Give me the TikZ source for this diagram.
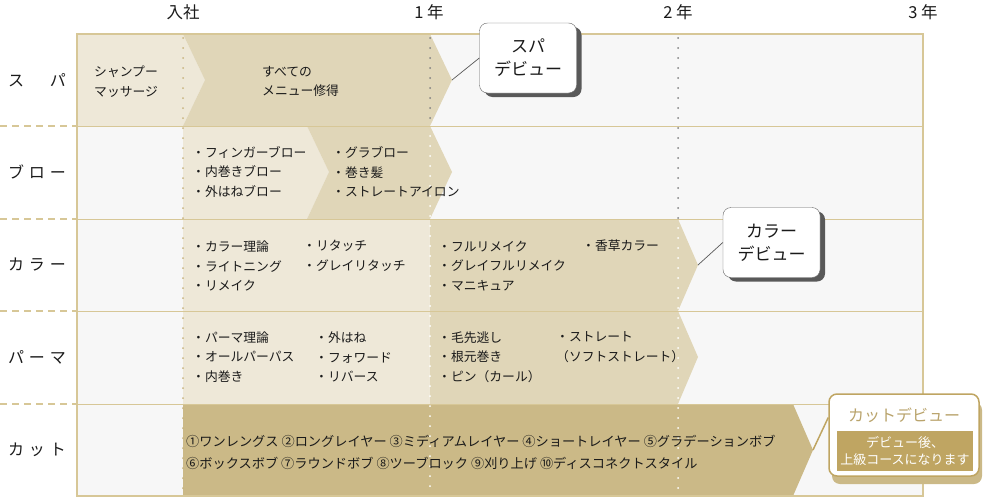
\documentclass[tikz,border=0pt]{standalone}
\usepackage{fontspec}
\setmainfont{Noto Sans CJK JP}
\newfontfamily\rowfont[LetterSpace=30]{Noto Sans CJK JP}
\usetikzlibrary{shadows}
\definecolor{tanline}{HTML}{D7C797}
\definecolor{tanlight}{HTML}{EEE8D8}
\definecolor{tanmid}{HTML}{E0D6B8}
\definecolor{tandark}{HTML}{CBB987}
\definecolor{tandot}{HTML}{C9B47E}
\definecolor{bggray}{HTML}{F7F7F7}
\definecolor{cutgold}{HTML}{BFA562}
\definecolor{cuttext}{HTML}{B9A36B}
\definecolor{ink}{HTML}{1A1A1A}

\begin{document}
\begin{tikzpicture}[x=1pt, y=-1pt, text=ink,
  item/.style={anchor=west, align=left, inner sep=0pt, font=\fontsize{12.8}{19.5}\selectfont},
  rowlabel/.style={inner sep=0pt, font=\rowfont\fontsize{16}{16}\selectfont},
  year/.style={inner sep=0pt, font=\fontsize{16.5}{16.5}\selectfont},
  debut/.style={draw=black!60, fill=white, rounded corners=8pt, align=center,
    minimum width=97pt, minimum height=70pt, font=\fontsize{17}{23}\selectfont,
    drop shadow={shadow xshift=5pt, shadow yshift=-4pt, fill=black!65, opacity=1}},
  dots/.style={line width=2pt, line cap=round, dash pattern=on 0pt off 10pt},
  callline/.style={draw=black!65, line width=0.7pt}]
  \useasboundingbox (0,0) rectangle (983,498);

  % table background and steps
  \fill[bggray] (77,34) rectangle (923,496);
  \fill[tanlight] (77,34) -- (183,34) -- (205,80) -- (183,126) -- (77,126) -- cycle;
  \fill[tanmid] (183,34) -- (430,34) -- (452,80) -- (430,126) -- (183,126) -- (205,80) -- cycle;
  \fill[tanlight] (183,126) -- (307,126) -- (329,172) -- (307,219) -- (183,219) -- cycle;
  \fill[tanmid] (307,126) -- (430,126) -- (452,172) -- (430,219) -- (307,219) -- (329,172) -- cycle;
  \fill[tanlight] (183,219) rectangle (430,404);
  \fill[tanmid] (430,219) -- (678,219) -- (698,265) -- (678,311) -- (430,311) -- cycle;
  \fill[tanmid] (430,311) -- (678,311) -- (698,357) -- (678,404) -- (430,404) -- cycle;
  \fill[tandark] (183,404) -- (793,404) -- (813,450) -- (793,496) -- (183,496) -- cycle;

  \foreach \y in {126,219,311,404} {
    \draw[tanline, line width=1.2pt, dash pattern=on 7pt off 5pt] (0,\y) -- (77,\y);
    \draw[tanline, line width=1pt] (77,\y) -- (923,\y);
  }
  \draw[dots, tandot] (183,38) -- (183,496);
  \draw[dots, black!50] (430,38) -- (430,126);
  \draw[dots, white] (430,136) -- (430,496);
  \draw[dots, black!50] (678,38) -- (678,219);
  \draw[dots, white] (678,228) -- (678,496);
  \draw[tanline, line width=2pt] (77,34) rectangle (923,496);

  \node[year] (join) at (183,12) {入社};
  \node[year] (yr1) at (429,12) {1 年};
  \node[year] (yr2) at (678,12) {2 年};
  \node[year] (yr3) at (923,12) {3 年};

  \node[rowlabel] (spa) at (37,80) {ス　パ};
  \node[rowlabel] (blow) at (37,172) {ブロー};
  \node[rowlabel] (color) at (37,265) {カラー};
  \node[rowlabel] (perm) at (37,357) {パーマ};
  \node[rowlabel] (cut) at (37,450) {カット};

  \node[item] (shampoo) at (94,81.5) {シャンプー\\マッサージ};
  \node[item] (allmenu) at (262,81.5) {すべての\\メニュー修得};
  \node[item] (blowa) at (192,172) {・フィンガーブロー\\・内巻きブロー\\・外はねブロー};
  \node[item] (blowb) at (332,172) {・グラブロー\\・巻き髪\\・ストレートアイロン};
  \node[item] (colora) at (192,266) {・カラー理論\\・ライトニング\\・リメイク};
  \node[item] (colorb) at (303,256) {・リタッチ\\・グレイリタッチ};
  \node[item] (colorc) at (438,266) {・フルリメイク\\・グレイフルリメイク\\・マニキュア};
  \node[item] (colord) at (582,246) {・香草カラー};
  \node[item] (perma) at (192,357) {・パーマ理論\\・オールパーパス\\・内巻き};
  \node[item] (permb) at (315,357) {・外はね\\・フォワード\\・リバース};
  \node[item] (permc) at (438,357) {・毛先逃し\\・根元巻き\\・ピン（カール）};
  \node[item] (permd) at (556,347) {・ストレート\\（ソフトストレート）};
  \node[item, font=\fontsize{13.2}{22}\selectfont] (cutlist) at (186,452)
    {①ワンレングス ②ロングレイヤー ③ミディアムレイヤー ④ショートレイヤー ⑤グラデーションボブ\\
     ⑥ボックスボブ ⑦ラウンドボブ ⑧ツーブロック ⑨刈り上げ ⑩ディスコネクトスタイル};

  % debut callouts
  \coordinate (spatip) at (452,80);
  \coordinate (colortip) at (698,265);
  \coordinate (cuttip) at (813,450);
  \node[debut] (spadebut) at (528,58) {スパ\\デビュー};
  \node[debut] (colordebut) at (771.5,242.5) {カラー\\デビュー};
  \draw[callline] (spatip) -- (spadebut.west);
  \draw[callline] (colortip) -- (colordebut.west);

  \node[draw=cutgold, line width=1.5pt, fill=white, rounded corners=8pt,
    minimum width=150pt, minimum height=82pt,
    drop shadow={shadow xshift=3pt, shadow yshift=-8pt, fill=tandark, opacity=1}]
    (cutdebut) at (904,435) {};
  \draw[cutgold, line width=1.5pt] (cuttip) -- (cutdebut.167);
  \node[inner sep=0pt, text=cuttext, font=\fontsize{16}{16}\selectfont] (cuttitle) at (904,415) {カットデビュー};
  \node[fill=cutgold, minimum width=136pt, minimum height=40pt, inner sep=0pt, align=center,
    text=white, font=\fontsize{13}{17}\selectfont] (cutnote) at (905,451) {デビュー後、\\上級コースになります};
\end{tikzpicture}
\end{document}
